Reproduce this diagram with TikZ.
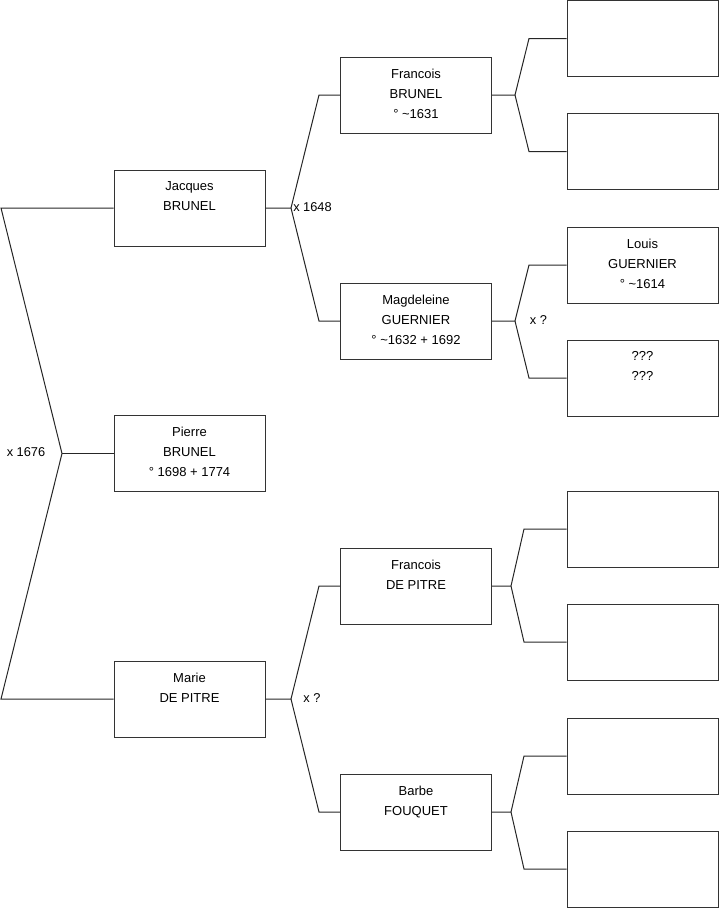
\documentclass[tikz,border=0pt]{standalone}
\usepackage{fontspec}
\setmainfont{Liberation Sans}
\begin{document}
\begin{tikzpicture}[x=0.75pt,y=-0.75pt,
  pbox/.style={draw=black!80, line width=0.75pt, minimum width=113.25pt, minimum height=57pt, inner sep=0pt},
  ptxt/.style={anchor=north, inner sep=0pt, align=center, font=\fontsize{9.75pt}{15pt}\selectfont},
  lbl/.style={inner sep=0pt, font=\fontsize{9.6pt}{11pt}\selectfont},
  conn/.style={draw=black!85, line width=0.75pt}]
\useasboundingbox (0,0) rectangle (719,908);
% column 1
\node[pbox] (jac) at (189.5,208) {};
\node[pbox] (pie) at (189.5,453.5) {};
\node[pbox] (mar) at (189.5,699) {};
% column 2
\node[pbox] (frb) at (416,95) {};
\node[pbox] (mag) at (416,321) {};
\node[pbox] (frd) at (416,586) {};
\node[pbox] (bar) at (416,812) {};
% column 3
\node[pbox] (r1) at (642.5,38.5) {};
\node[pbox] (r2) at (642.5,151.5) {};
\node[pbox] (r3) at (642.5,265) {};
\node[pbox] (r4) at (642.5,378) {};
\node[pbox] (r5) at (642.5,529) {};
\node[pbox] (r6) at (642.5,642) {};
\node[pbox] (r7) at (642.5,756) {};
\node[pbox] (r8) at (642.5,869) {};
% texts
\node[ptxt] (jacT) at ([yshift=-8.9pt]jac.north) {Jacques\\BRUNEL};
\node[ptxt] (pieT) at ([yshift=-8.9pt]pie.north) {Pierre\\BRUNEL\\° 1698 + 1774};
\node[ptxt] (marT) at ([yshift=-8.9pt]mar.north) {Marie\\DE PITRE};
\node[ptxt] (frbT) at ([yshift=-8.9pt]frb.north) {Francois\\BRUNEL\\° \textasciitilde1631};
\node[ptxt] (magT) at ([yshift=-8.9pt]mag.north) {Magdeleine\\GUERNIER\\° \textasciitilde1632 + 1692};
\node[ptxt] (frdT) at ([yshift=-8.9pt]frd.north) {Francois\\DE PITRE};
\node[ptxt] (barT) at ([yshift=-8.9pt]bar.north) {Barbe\\FOUQUET};
\node[ptxt] (r3T) at ([yshift=-8.9pt]r3.north) {Louis\\GUERNIER\\° \textasciitilde1614};
\node[ptxt] (r4T) at ([yshift=-8.9pt]r4.north) {???\\???};
% fork points
\coordinate (a0) at (1,208);
\coordinate (a1) at (62,453.5);
\coordinate (a2) at (1,699);
\coordinate (b0) at (291,208);
\coordinate (b1) at (319,95);
\coordinate (b2) at (319,321);
\coordinate (c0) at (291,699);
\coordinate (c1) at (319,586);
\coordinate (c2) at (319,812);
\coordinate (d0) at (515,95);
\coordinate (d1) at (529,38.5);
\coordinate (d2) at (529,151.5);
\coordinate (e0) at (515,321);
\coordinate (e1) at (529,265);
\coordinate (e2) at (529,378);
\coordinate (f0) at (511,586);
\coordinate (f1) at (524,529);
\coordinate (f2) at (524,642);
\coordinate (g0) at (511,812);
\coordinate (g1) at (524,756);
\coordinate (g2) at (524,869);
% connectors
\draw[conn] (jac.west) -- (a0) -- (a1) -- (a2) -- (mar.west);
\draw[conn] (a1) -- (pie.west);
\draw[conn] (jac.east) -- (b0) -- (b1) -- (frb.west);
\draw[conn] (b0) -- (b2) -- (mag.west);
\draw[conn] (mar.east) -- (c0) -- (c1) -- (frd.west);
\draw[conn] (c0) -- (c2) -- (bar.west);
\draw[conn] (frb.east) -- (d0) -- (d1) -- (r1.west);
\draw[conn] (d0) -- (d2) -- (r2.west);
\draw[conn] (mag.east) -- (e0) -- (e1) -- (r3.west);
\draw[conn] (e0) -- (e2) -- (r4.west);
\draw[conn] (frd.east) -- (f0) -- (f1) -- (r5.west);
\draw[conn] (f0) -- (f2) -- (r6.west);
\draw[conn] (bar.east) -- (g0) -- (g1) -- (r7.west);
\draw[conn] (g0) -- (g2) -- (r8.west);
% labels
\node[lbl] (l1) at (26,452) {x 1676};
\node[lbl, anchor=west] (l2) at (293,207.5) {x 1648};
\node[lbl] (l3) at (312,698) {x ?};
\node[lbl] (l4) at (538.5,320) {x ?};
\end{tikzpicture}
\end{document}
